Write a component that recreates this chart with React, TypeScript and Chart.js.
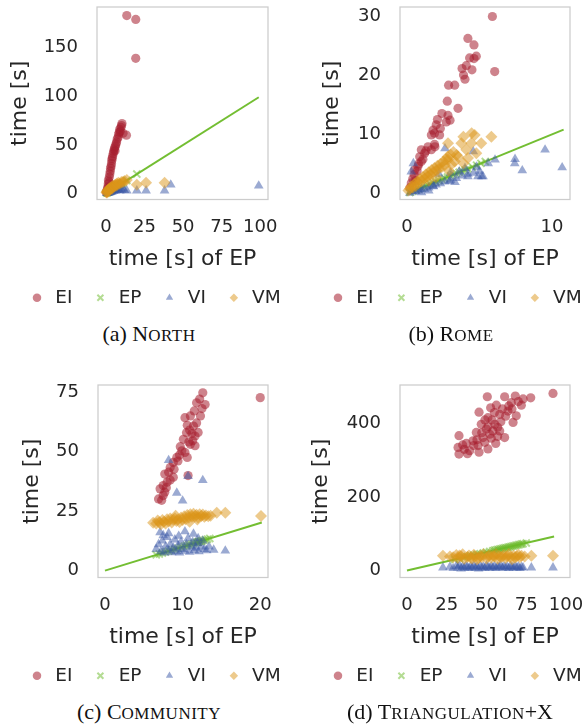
import React, { useEffect, useRef } from 'react';
import { Chart, registerables } from 'chart.js';

Chart.register(...registerables);

type P = [number, number];

const SERIES_NAMES = ['EI', 'EP', 'VI', 'VM'];
const X_TITLE = 'time [s] of EP';
const Y_TITLE = 'time [s]';

// ---------- (a) North ----------
const northXTicks = [0, 25, 50, 75, 100];
const northYTicks = [0, 50, 100, 150];
const northLineEnd = 99;
const northEI: P[] = [
  [0.3, 1], [0.6, 3], [1, 2], [1, 5], [1.3, 7], [1.5, 10], [1.6, 14], [2, 12], [2.2, 17], [2.5, 20],
  [2.8, 23], [3, 26], [3.3, 28], [3.6, 31], [3.8, 34], [4, 36], [4.3, 38], [4.7, 41], [5, 43], [5.3, 45],
  [5.6, 47], [5.9, 44], [6.2, 49], [6.5, 51], [6.9, 53], [7.3, 56], [7.9, 58], [8.2, 61], [8.6, 63], [8.9, 66],
  [9.3, 64], [9.7, 68], [10.1, 70], [10.4, 72], [11.1, 62], [13.3, 60], [13.5, 183], [19.3, 179], [19.3, 139],
];
const northEP: P[] = [
  [0.5, 0.5], [1, 1], [1.5, 1.5], [2, 2], [2.5, 2.5], [3, 3], [3.5, 3.5], [4, 4], [4.5, 4.5], [5, 5],
  [5.5, 5.5], [6, 6], [6.5, 6.5], [7, 7], [8, 8], [9, 9], [10, 10], [11, 11], [13.5, 13.5], [20, 20],
];
const northVI: P[] = [
  [0.5, 0.3], [1, 0.5], [1.5, 0.8], [2, 1], [2.5, 1.2], [3, 1.5], [3.5, 1.8], [4, 2], [5, 2.5], [6, 3],
  [7, 3.5], [8, 4], [9, 3], [10, 4], [11, 5], [12, 3.5], [13.5, 3], [20, 3], [26, 3], [38, 3], [42, 9], [99, 8],
];
const northVM: P[] = [
  [0.3, 1], [0.5, 2], [0.8, 1], [1, 3], [1.3, 2], [1.5, 4], [2, 3], [2, 5], [2.5, 4], [2.8, 6],
  [3, 5], [3.5, 6], [3.8, 7], [4, 5], [4.5, 8], [5, 7], [5.5, 8], [6, 9], [6.5, 8], [7, 10],
  [7.5, 9], [8, 11], [9, 10], [10, 12], [11, 12], [12, 13], [13.5, 14], [20, 9], [26, 11], [38, 11],
];

// ---------- (b) Rome ----------
const romeXTicks = [0, 10];
const romeYTicks = [0, 10, 20, 30];
const romeLineEnd = 10.8;
const romeEI: P[] = [
  [5.89, 29.9], [4.2, 26.2], [4.62, 25.1], [4.32, 22.9], [4.78, 23.2], [4.62, 22.8], [6.05, 20.6], [4.09, 21.6],
  [3.8, 21.1], [4.48, 20.9], [3.9, 20.0], [4.0, 19.3], [2.87, 18.3], [3.29, 18.3], [2.78, 15.6], [3.52, 14.4],
  [2.41, 13.5], [2.83, 13.2], [2.71, 12.1], [2.97, 12.4], [2.02, 11.6], [1.8, 10.7], [1.9, 10.2], [2.25, 9.9],
  [1.68, 9.9], [1.45, 7.9], [1.93, 7.9], [0.99, 7.4], [1.68, 7.4], [1.22, 6.8], [0.88, 6.2], [0.99, 5.4],
  [0.76, 4.6], [0.53, 4.0], [0.2, 1], [0.3, 1.8], [0.4, 2.5], [0.5, 3.2], [0.6, 2.2], [0.7, 3.8], [0.8, 5],
  [1.1, 5.8], [1.3, 7.2], [1.9, 8.3], [2.3, 11], [2.1, 12.5],
];
const romeEP: P[] = [
  [0.2, 0.2], [0.4, 0.4], [0.6, 0.6], [0.8, 0.8], [1.0, 1.0], [1.2, 1.2], [1.4, 1.4], [1.6, 1.6], [1.8, 1.8],
  [2.0, 2.0], [2.2, 2.2], [2.4, 2.4], [2.6, 2.6], [2.8, 2.8], [3.0, 3.0], [3.2, 3.2], [3.4, 3.4], [3.6, 3.6],
  [3.8, 3.8], [4.0, 4.0], [4.2, 4.2], [4.5, 4.5], [4.8, 4.8], [5.1, 5.1], [5.4, 5.4],
];
const romeVI: P[] = [
  [0.44, 5.1], [0.3, 3.7], [2.62, 7.6], [4.57, 7.1], [6.07, 5.7], [7.45, 5.8], [7.43, 5.1], [7.95, 3.9],
  [9.52, 7.4], [10.7, 4.4], [5.15, 2.9], [4.9, 2.9], [4.2, 2.9], [3.31, 1.9], [1.82, 1.2], [5.6, 5.1],
  [5.24, 2.9], [2.94, 2.1], [0.2, 0.1], [0.4, 0.3], [0.6, 0.4], [0.8, 0.5], [1.0, 0.7], [1.2, 0.8],
  [1.5, 1.0], [1.8, 1.3], [2.0, 1.5], [2.3, 1.7], [2.6, 2.0], [3.0, 2.3], [3.4, 2.6], [3.8, 3.0],
  [4.2, 3.3], [4.6, 3.5], [2.2, 3.3], [3.0, 3.5], [3.6, 3.7], [4.0, 4.3], [4.8, 4.5], [5.0, 3.8],
  [1.0, 0.2], [1.5, 0.5],
];
const romeVM: P[] = [
  [4.67, 9.9], [5.82, 9.6], [3.75, 8.5], [4.44, 8.5], [5.12, 8.5], [2.83, 8.5], [4.09, 7.4], [4.78, 6.8],
  [3.52, 6.2], [4.21, 6.0], [2.83, 5.7], [3.06, 4.9], [3.89, 9.6], [4.46, 10.2], [3.43, 6.5], [3.89, 5.1],
  [0.1, 0.5], [0.2, 0.8], [0.3, 1.2], [0.4, 1.0], [0.5, 1.6], [0.6, 1.3], [0.7, 2.0], [0.8, 1.8], [0.9, 2.4],
  [1.0, 2.1], [1.1, 2.8], [1.2, 2.5], [1.3, 3.2], [1.4, 2.9], [1.5, 3.6], [1.6, 3.2], [1.7, 4.0], [1.8, 3.6],
  [1.9, 4.3], [2.0, 3.9], [2.1, 4.7], [2.2, 4.2], [2.3, 5.0], [2.4, 4.5], [2.5, 5.4], [2.6, 4.8], [2.7, 5.8],
  [2.8, 6.2], [3.0, 6.6], [3.2, 7.0], [2.9, 3.8], [2.0, 2.8], [1.5, 2.2], [3.3, 5.4],
];

// ---------- (c) Community ----------
const commXTicks = [0, 10, 20];
const commYTicks = [0, 25, 50, 75];
const commLineEnd = 20.2;
const commEI: P[] = [
  [12.6, 74.6], [11.8, 70.4], [12.9, 69.7], [12.2, 72], [12.5, 68], [11.0, 64.9], [12.3, 64.9], [10.3, 64.2],
  [11.8, 62], [11.4, 60.7], [10.9, 59], [10.5, 57.9], [11.6, 56.5], [11.2, 57.5], [10.1, 55.1], [10.8, 54],
  [11.0, 53.0], [11.6, 52.4], [9.9, 50.3], [10.3, 49.6], [10.6, 47.5], [9.25, 47.5], [9.6, 48.5], [8.8, 45.4],
  [9.4, 46], [8.4, 43.3], [8.9, 42.5], [8.2, 41.3], [7.7, 40.5], [8.8, 39.2], [8.0, 37.1], [8.4, 38],
  [7.5, 35.7], [7.1, 34.3], [7.9, 34.8], [7.7, 32.9], [6.9, 30.1], [7.3, 29.5], [7.5, 31.5], [10.7, 39.9],
  [20.0, 72.6], [11.5, 67], [12.0, 58], [9.7, 52], [11.3, 54.5], [10.6, 61],
];
const commEP: P[] = [
  [6.6, 6.6], [7.0, 7.0], [7.4, 7.4], [7.8, 7.8], [8.2, 8.2], [8.6, 8.6], [9.0, 9.0], [9.4, 9.4], [9.8, 9.8],
  [10.2, 10.2], [10.5, 10.5], [10.8, 10.8], [11.1, 11.1], [11.4, 11.4], [11.7, 11.7], [11.9, 11.9], [12.0, 12.0],
  [12.1, 12.1], [12.3, 12.3], [12.4, 12.4], [12.6, 12.6], [12.9, 12.9], [13.2, 13.2], [13.5, 13.5],
];
const commVI: P[] = [
  [6.6, 9], [6.9, 11], [7.1, 16], [7.2, 8], [7.4, 12.5], [7.6, 7.5], [7.8, 10], [8.0, 14], [8.2, 15.6],
  [8.2, 8.5], [8.4, 11], [8.6, 7.6], [8.8, 9.5], [9.0, 13], [9.2, 8], [9.4, 10.5], [9.6, 7.5], [9.8, 12],
  [10.0, 9], [10.3, 16.4], [10.3, 8.2], [10.5, 11], [10.7, 13.5], [10.9, 7.8], [11.1, 10], [11.4, 15.4],
  [11.3, 12], [11.5, 8.5], [11.7, 9.5], [11.9, 11.5], [12.1, 8], [12.4, 10], [12.6, 12.5], [12.8, 9],
  [13.1, 8.5], [13.4, 10], [14.0, 8.7], [15.5, 8.3], [8.2, 46.3], [10.7, 39.6], [12.6, 37.9], [9.25, 32.6],
  [10.0, 29.3], [12.0, 13.5], [9.5, 14.5], [7.5, 14.8],
];
const commVM: P[] = [
  [6.2, 20.1], [6.6, 19.8], [6.8, 21], [7.0, 20.3], [7.2, 19.5], [7.4, 21.2], [7.6, 20.5], [7.8, 19.8],
  [8.0, 21.5], [8.2, 20.6], [8.4, 21.9], [8.6, 20.2], [8.8, 21.3], [9.0, 22.0], [9.2, 20.8], [9.4, 21.6],
  [9.6, 20.4], [9.8, 22.3], [10.0, 21.2], [10.2, 22.8], [10.4, 21.6], [10.6, 23.3], [10.8, 22.2], [11.0, 23.7],
  [11.2, 22.6], [11.4, 23.9], [11.6, 22.9], [11.8, 23.4], [12.0, 22.3], [12.2, 23.6], [12.4, 22.9], [12.6, 23.5],
  [12.8, 22.6], [13.0, 23.1], [13.3, 22.8], [13.6, 23.0], [14.4, 24.3], [15.5, 24.3], [20.1, 22.9], [9.1, 23],
  [10.9, 20.5], [11.9, 21.4],
];

// ---------- (d) Triangulation+X ----------
const triXTicks = [0, 25, 50, 75, 100];
const triYTicks = [0, 200, 400];
const triLineEnd = 92.5;
const triEI: P[] = [
  [91.8, 482], [77.8, 470], [50.5, 473], [61.4, 473], [68.1, 475], [71.9, 450], [65.6, 457], [56.2, 450],
  [52.6, 443], [58.3, 425], [45.3, 431], [63.5, 434], [68.7, 421], [50.9, 416], [66.7, 403], [46.7, 398],
  [55.2, 398], [49.9, 385], [58.3, 380], [61.4, 362], [43.6, 376], [47.8, 362], [48.9, 349], [32.7, 367],
  [55.8, 346], [37.3, 346], [32.1, 335], [39.4, 326], [45.3, 322], [32.7, 317], [44.7, 340], [50.9, 331],
  [52.0, 371], [41.5, 353], [53.5, 410], [60, 440], [64, 448], [57, 390], [54, 380], [51, 392], [47, 375],
  [42, 340], [36, 330], [53, 360], [59, 405], [62, 420], [70, 460], [55, 430], [49, 410], [44, 356],
  [38, 318], [35, 342], [57, 365], [66, 440], [73, 467],
];
const triEP: P[] = [
  [30, 30], [33, 33], [36, 36], [38, 38], [40, 40], [42, 42], [44, 44], [46, 46], [48, 48], [50, 50],
  [52, 52], [54, 54], [55, 55], [56, 56], [57, 57], [58, 58], [59, 59], [60, 60], [61, 61], [62, 62],
  [63, 63], [64, 64], [65, 65], [66, 66], [67, 67], [68, 68], [69, 69], [70, 70], [71, 71], [72, 72],
  [73, 73], [75, 75],
];
const triVI: P[] = [
  [22.6, 8], [27, 10], [29, 6], [31, 12], [32, 8], [33, 14], [34, 5], [35, 10], [36, 7], [37, 12],
  [38, 9], [39, 6], [40, 11], [41, 8], [42, 13], [43, 7], [44, 10], [45, 5], [46, 12], [47, 8],
  [48, 10], [49, 6], [50, 13], [51, 9], [52, 7], [53, 11], [54, 8], [55, 12], [56, 6], [57, 10],
  [58, 9], [59, 13], [60, 7], [61, 11], [62, 8], [63, 10], [64, 6], [65, 12], [66, 9], [67, 7],
  [68, 11], [69, 8], [70, 10], [71, 6], [72, 9], [73, 8], [78.2, 8], [91.8, 8],
];
const triVM: P[] = [
  [22.6, 40], [27, 38], [29, 36], [31, 42], [32, 34], [34, 39], [35, 44], [36, 32], [38, 37], [39, 41],
  [40, 35], [42, 43], [43, 38], [44, 31], [46, 40], [47, 36], [48, 44], [50, 33], [51, 39], [52, 42],
  [53, 35], [55, 38], [56, 44], [57, 32], [58, 40], [59, 36], [61, 42], [62, 34], [63, 39], [64, 45],
  [65, 37], [66, 31], [67, 41], [68, 35], [69, 39], [70, 43], [71, 36], [72, 40], [74, 38], [78.2, 40],
  [91.8, 40], [45, 34], [54, 41], [60, 38], [33, 41], [41, 33],
];

// ---------- styling ----------
const TEXT = '#262626';
const FONT = 'DejaVu Sans';
const RED = 'rgba(165,30,45,0.55)';
const GREEN_PT = 'rgba(105,185,40,0.5)';
const GREEN_LINE = 'rgb(115,190,50)';
const BLUE = 'rgba(55,85,165,0.5)';
const ORANGE = 'rgba(220,150,25,0.5)';

type PanelCfg = {
  left: number; top: number; padL: number; yWidth: number; rightW: number; yTitlePad: number;
  xMin: number; xMax: number; yMin: number; yMax: number;
  xTicks: number[]; yTicks: number[]; lineEnd: number;
  EI: P[]; EP: P[]; VI: P[]; VM: P[];
};

const CANVAS_W = 310;
const CANVAS_H = 317;

const panels: PanelCfg[] = [
  { left: 0, top: 0, padL: 9, yWidth: 88, rightW: 42, yTitlePad: -2, xMin: -5.8, xMax: 105, yMin: -6.1, yMax: 191.8,
    xTicks: northXTicks, yTicks: northYTicks, lineEnd: northLineEnd, EI: northEI, EP: northEP, VI: northVI, VM: northVM },
  { left: 301, top: 0, padL: 9, yWidth: 90, rightW: 41, yTitlePad: 9, xMin: -0.48, xMax: 11.24, yMin: -1.0, yMax: 31.5,
    xTicks: romeXTicks, yTicks: romeYTicks, lineEnd: romeLineEnd, EI: romeEI, EP: romeEP, VI: romeVI, VM: romeVM },
  { left: 0, top: 378, padL: 9, yWidth: 89, rightW: 42, yTitlePad: 10, xMin: -0.9, xMax: 21.0, yMin: -2.9, yMax: 77.9,
    xTicks: commXTicks, yTicks: commYTicks, lineEnd: commLineEnd, EI: commEI, EP: commEP, VI: commVI, VM: commVM },
  { left: 301, top: 378, padL: 9, yWidth: 90, rightW: 41, yTitlePad: -2, xMin: -4.4, xMax: 102.5, yMin: -19, yMax: 505,
    xTicks: triXTicks, yTicks: triYTicks, lineEnd: triLineEnd, EI: triEI, EP: triEP, VI: triVI, VM: triVM },
];

const framePlugin = {
  id: 'frame',
  afterDatasetsDraw(chart: any) {
    const { ctx, chartArea: a } = chart;
    ctx.save();
    ctx.strokeStyle = '#cccccc';
    ctx.lineWidth = 1.25;
    ctx.strokeRect(a.left, a.top, a.right - a.left, a.bottom - a.top);
    ctx.restore();
  },
};

const toPts = (arr: P[]) => arr.map(([x, y]) => ({ x, y }));

function Panel({ cfg }: { cfg: PanelCfg }) {
  const ref = useRef<HTMLCanvasElement | null>(null);
  useEffect(() => {
    if (!ref.current) return;
    const tickFont = { family: FONT, size: 18 };
    const titleFont = { family: FONT, size: 22 };
    const chart = new Chart(ref.current, {
      type: 'scatter',
      data: {
        datasets: [
          {
            type: 'line', label: 'ref', data: [{ x: 0, y: 0 }, { x: cfg.lineEnd, y: cfg.lineEnd }],
            borderColor: GREEN_LINE, borderWidth: 2, pointRadius: 0, fill: false, order: 5,
          } as any,
          { label: SERIES_NAMES[0], data: toPts(cfg.EI), pointStyle: 'circle', pointRadius: 4.6, backgroundColor: RED, borderWidth: 0, order: 4 },
          { label: SERIES_NAMES[1], data: toPts(cfg.EP), pointStyle: 'crossRot', pointRadius: 5, backgroundColor: GREEN_PT, borderColor: GREEN_PT, borderWidth: 2, order: 3 },
          { label: SERIES_NAMES[2], data: toPts(cfg.VI), pointStyle: 'triangle', pointRadius: 5.6, backgroundColor: BLUE, borderWidth: 0, order: 2 },
          { label: SERIES_NAMES[3], data: toPts(cfg.VM), pointStyle: 'rectRot', pointRadius: 6, backgroundColor: ORANGE, borderWidth: 0, order: 1 },
        ],
      },
      options: {
        animation: false,
        responsive: false,
        maintainAspectRatio: false,
        layout: { padding: { left: cfg.padL, top: 6, right: 0, bottom: 0 } },
        plugins: {
          tooltip: { enabled: false },
          legend: {
            position: 'bottom',
            align: 'start',
            labels: {
              usePointStyle: true,
              boxWidth: 18,
              boxHeight: 6,
              padding: 19,
              color: TEXT,
              font: { family: FONT, size: 18.5 },
              filter: (item: any) => item.datasetIndex !== 0,
              sort: (a: any, b: any) => a.datasetIndex - b.datasetIndex,
            },
          },
        },
        scales: {
          x: {
            type: 'linear', position: 'bottom', min: cfg.xMin, max: cfg.xMax,
            grid: { display: false, drawTicks: false }, border: { display: false },
            ticks: { padding: 17, color: TEXT, font: tickFont },
            afterBuildTicks: (s: any) => { s.ticks = cfg.xTicks.map((v) => ({ value: v })); },
            afterFit: (s: any) => { s.height = 70; s.paddingLeft = 0; s.paddingRight = 0; },
            title: { display: true, text: X_TITLE, color: TEXT, font: titleFont, padding: { top: 0, bottom: -3 } },
          },
          y: {
            type: 'linear', position: 'left', min: cfg.yMin, max: cfg.yMax,
            grid: { display: false, drawTicks: false }, border: { display: false },
            ticks: { padding: 19, color: TEXT, font: tickFont },
            afterBuildTicks: (s: any) => { s.ticks = cfg.yTicks.map((v) => ({ value: v })); },
            afterFit: (s: any) => { s.width = cfg.yWidth; s.paddingTop = 0; s.paddingBottom = 0; },
            title: { display: true, text: Y_TITLE, color: TEXT, font: titleFont, padding: { top: cfg.yTitlePad, bottom: 0 } },
          },
          y2: {
            type: 'linear', position: 'right', display: true,
            grid: { display: false, drawTicks: false }, border: { display: false },
            ticks: { display: false },
            afterFit: (s: any) => { s.width = cfg.rightW; s.paddingTop = 0; s.paddingBottom = 0; },
          },
        },
      } as any,
      plugins: [framePlugin],
    });
    return () => chart.destroy();
  }, [cfg]);
  return (
    <canvas
      ref={ref}
      width={CANVAS_W}
      height={CANVAS_H}
      style={{ position: 'absolute', left: cfg.left, top: cfg.top, width: CANVAS_W, height: CANVAS_H }}
    />
  );
}

const captionStyle = (cx: number, cy: number): React.CSSProperties => ({
  position: 'absolute', left: cx - 150, width: 300, top: cy - 13, height: 26, lineHeight: '26px',
  textAlign: 'center', fontFamily: '"Liberation Serif", serif', fontSize: 22, color: '#111', whiteSpace: 'nowrap',
});
const sc: React.CSSProperties = { fontVariant: 'small-caps', fontSize: '1.12em', letterSpacing: '0.5px' };

export default function App() {
  return (
    <div style={{ position: 'absolute', left: 0, top: 0, width: 584, height: 725, overflow: 'hidden', background: '#fff' }}>
      {panels.map((p, i) => <Panel key={i} cfg={p} />)}
      <div style={captionStyle(149, 333)}>(a) N<span style={sc}>orth</span></div>
      <div style={captionStyle(451, 333)}>(b) R<span style={sc}>ome</span></div>
      <div style={captionStyle(149, 711)}>(c) C<span style={sc}>ommunity</span></div>
      <div style={captionStyle(450, 711)}>(d) T<span style={sc}>riangulation</span>+X</div>
    </div>
  );
}
